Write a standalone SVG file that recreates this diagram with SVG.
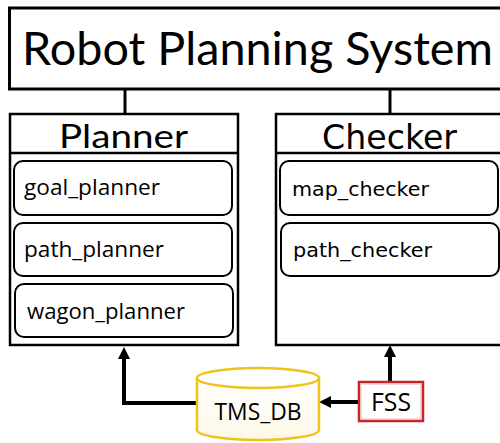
<svg xmlns="http://www.w3.org/2000/svg" width="500" height="443" viewBox="0 0 500 443">
<defs>
<style>
.box{fill:#fff;stroke:#000;stroke-width:2.5}
.sub{fill:#fff;stroke:#000;stroke-width:2}
.t{font-family:Lato,"Open Sans","Liberation Sans",sans-serif;fill:#000}
.s{font-family:"Open Sans","Liberation Sans",sans-serif;fill:#000}
.d{font-family:"DejaVu Sans","Liberation Sans",sans-serif;fill:#000}
.conn{fill:none;stroke:#000;stroke-width:4}
.link{fill:none;stroke:#000;stroke-width:3}
</style>
<marker id="ah" markerUnits="userSpaceOnUse" markerWidth="12" markerHeight="12" refX="0" refY="6" orient="auto">
<path d="M0,0 L12,6 L0,12 z" fill="#000"/>
</marker>
<linearGradient id="cyl" x1="0" y1="0" x2="0" y2="1">
<stop offset="0" stop-color="#ffffff"/>
<stop offset="1" stop-color="#fdf8e6"/>
</linearGradient>
</defs>
<g id="connectors">
<line class="link" x1="125" y1="89" x2="125" y2="114"/>
<line class="link" x1="390" y1="89" x2="390" y2="114"/>
<path class="conn" d="M198,403 H124 V359" marker-end="url(#ah)"/>
<path class="conn" d="M359,402 H331" marker-end="url(#ah)"/>
<path class="conn" d="M390,382 V357" marker-end="url(#ah)"/>
</g>
<g id="robot-planning-system">
<rect x="9.5" y="8" width="520" height="81" fill="#fff" stroke="#000" stroke-width="3"/>
<text class="t" x="22" y="65" font-size="46" textLength="471" lengthAdjust="spacingAndGlyphs">Robot Planning System</text>
</g>
<g id="planner">
<rect class="box" x="10" y="114" width="228" height="231"/>
<line x1="10" y1="153" x2="238" y2="153" stroke="#000" stroke-width="2.5"/>
<text class="t" x="59" y="148" font-size="32" textLength="129" lengthAdjust="spacingAndGlyphs">Planner</text>
</g>
<g id="goal_planner">
<rect class="sub" x="14" y="161" width="218" height="54" rx="9"/>
<text class="s" x="24" y="195" font-size="21" textLength="136" lengthAdjust="spacingAndGlyphs">goal_planner</text>
</g>
<g id="path_planner">
<rect class="sub" x="14" y="223" width="218" height="53" rx="9"/>
<text class="s" x="24" y="257" font-size="21" textLength="140" lengthAdjust="spacingAndGlyphs">path_planner</text>
</g>
<g id="wagon_planner">
<rect class="sub" x="15" y="284" width="218" height="53" rx="9"/>
<text class="s" x="27" y="319" font-size="21" textLength="158" lengthAdjust="spacingAndGlyphs">wagon_planner</text>
</g>
<g id="checker">
<rect class="box" x="276" y="114" width="240" height="231"/>
<line x1="276" y1="153" x2="516" y2="153" stroke="#000" stroke-width="2.5"/>
<text class="d" x="322" y="149" font-size="33" textLength="135" lengthAdjust="spacingAndGlyphs">Checker</text>
</g>
<g id="map_checker">
<rect class="sub" x="280" y="161" width="218" height="54" rx="9"/>
<text class="d" x="292" y="196" font-size="20" textLength="137" lengthAdjust="spacingAndGlyphs">map_checker</text>
</g>
<g id="path_checker">
<rect class="sub" x="281" y="223" width="218" height="53" rx="9"/>
<text class="d" x="293" y="257" font-size="20" textLength="139" lengthAdjust="spacingAndGlyphs">path_checker</text>
</g>
<g id="tms_db">
<path d="M197,378 V430 A61,10 0 0 0 319,430 V378" fill="url(#cyl)" stroke="#f0c21e" stroke-width="2.5"/>
<ellipse cx="258" cy="378" rx="61" ry="10" fill="#fff" stroke="#f0c21e" stroke-width="2.5"/>
<text class="s" x="258" y="420" font-size="24" text-anchor="middle" fill="#222" textLength="87" lengthAdjust="spacingAndGlyphs">TMS_DB</text>
</g>
<g id="fss">
<rect x="359" y="382" width="64" height="39" fill="#fff" stroke="#c4262c" stroke-width="2.5"/>
<rect x="361" y="384" width="60" height="35" fill="none" stroke="#eeb0b0" stroke-width="1"/>
<text class="s" x="391" y="411" font-size="26" text-anchor="middle" textLength="40" lengthAdjust="spacingAndGlyphs">FSS</text>
</g>
</svg>
